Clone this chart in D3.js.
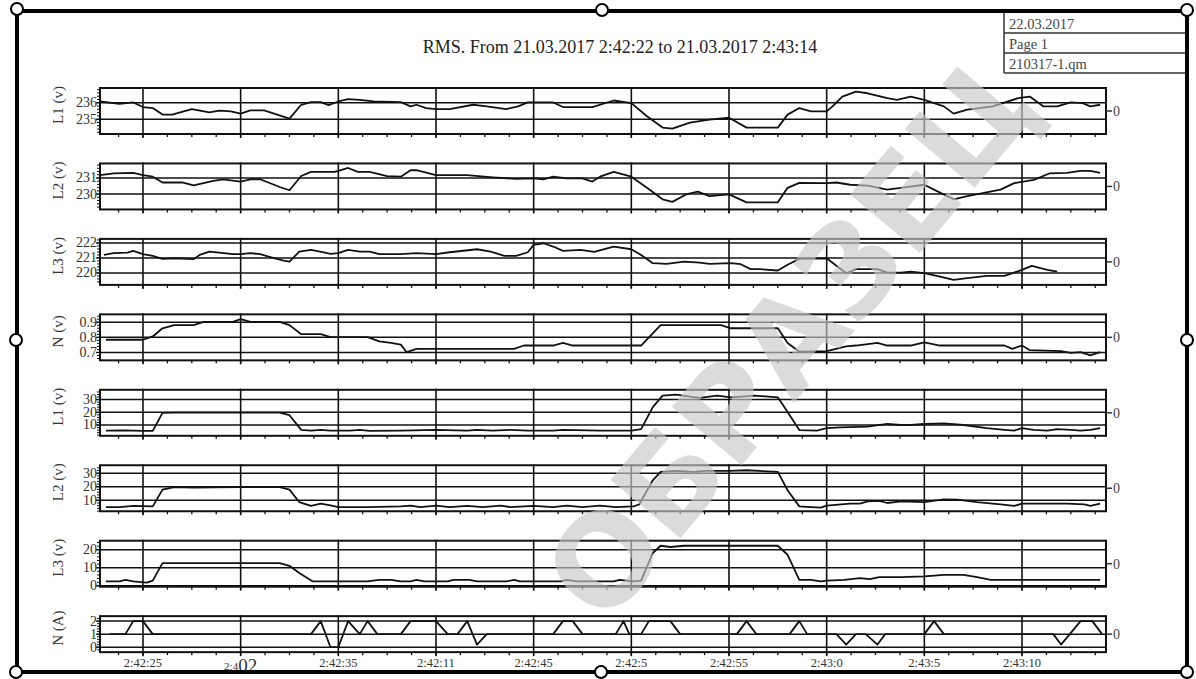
<!DOCTYPE html>
<html>
<head>
<meta charset="utf-8">
<script src="https://cdn.jsdelivr.net/npm/d3@7"></script>
<style>
  html, body { margin: 0; padding: 0; background: #fff; }
  svg { display: block; font-family: "Liberation Serif", "Times New Roman", serif; }
</style>
</head>
<body>
<svg id="chart" width="1196" height="679"></svg>
<script>
// ---- content -------------------------------------------------------------
const title = "RMS. From 21.03.2017 2:42:22 to 21.03.2017 2:43:14";
const infoRows = ["22.03.2017", "Page 1", "210317-1.qm"];
const watermarkText = "ОБРАЗЕЦ";

// time axis, seconds after 2:42:00
const timeDomain = [22.8, 74.3];
const majorTimes = [25, 30, 35, 40, 45, 50, 55, 60, 65, 70];
const xTickLabels = ["2:42:25", "2:402", "2:42:35", "2:42:11", "2:42:45", "2:42:5", "2:42:55", "2:43:0", "2:43:5", "2:43:10"];

const panelLabels = ["L1 (v)", "L2 (v)", "L3 (v)", "N (v)", "L1 (v)", "L2 (v)", "L3 (v)", "N (A)"];
const panelDomains = [[234.1, 236.9], [229.05, 231.9], [219.2, 222.27], [0.648, 0.952],
                      [1.5, 37.7], [1.9, 35.9], [-0.5, 25], [-0.38, 2.38]];
const panelTicks = [[235, 236], [230, 231], [220, 221, 222], [0.7, 0.8, 0.9],
                    [10, 20, 30], [10, 20, 30], [0, 10, 20], [0, 1, 2]];
const rightTickLabel = "0";

// ---- series: [time (s), value] -------------------------------------------
const voltL1 = [[22.8,236.08],[23.8,235.94],[24.5,236.02],[25.0,235.74],[25.5,235.68],[26.0,235.28],[26.5,235.28],[27.5,235.62],[28.4,235.42],[28.9,235.52],[29.5,235.48],[30.0,235.34],[30.5,235.54],[31.2,235.54],[32.5,235.04],[33.1,235.88],[33.6,236.04],[34.1,236.04],[34.5,235.86],[35.0,236.08],[35.5,236.22],[36.1,236.18],[36.8,236.08],[38.2,236.04],
  [38.7,235.78],[39.0,235.88],[39.5,235.68],[40.0,235.62],[40.7,235.62],[41.9,235.88],[42.6,235.78],[43.6,235.62],[44.2,235.78],[44.7,236.02],[46.0,236.02],[46.5,235.74],[48.0,235.74],[49.1,236.14],[50.0,235.98],[50.8,235.18],[51.6,234.49],[52.1,234.43],[53.0,234.79],[54.0,234.98],[55.0,235.09],[55.9,234.49],[57.5,234.49],[58.0,235.28],[58.6,235.68],[59.2,235.48],[60.0,235.48],[60.3,235.78],[60.8,236.38],[61.5,236.68],[62.1,236.58],[63.1,236.28],[63.6,236.18],[64.3,236.38],[65.0,236.18],[65.5,235.98],[66.0,235.78],[66.5,235.34],[67.2,235.58],[68.5,235.78],[69.8,236.28],[70.4,236.38],[71.1,235.78],[71.8,235.78],[72.5,236.02],[73.1,235.98],[73.5,235.78],[74.0,235.88]];

const voltL2 = [[22.8,231.18],[23.5,231.28],[24.5,231.32],[25.0,231.18],[25.5,231.08],[26.0,230.72],[27.0,230.72],[27.6,230.54],[28.6,230.82],[29.1,230.92],[30.0,230.78],[30.5,230.92],[31.0,230.92],[32.0,230.44],[32.5,230.24],[33.1,231.12],[33.6,231.38],[34.8,231.38],[35.0,231.44],[35.5,231.62],[36.0,231.38],[36.6,231.38],[37.5,231.12],[38.2,231.08],
  [38.7,231.48],[39.0,231.48],[40.0,231.18],[41.6,231.18],[42.9,231.04],[44.1,230.94],[45.0,230.98],[45.5,230.92],[46.0,231.08],[46.7,230.98],[47.5,230.98],[48.0,230.78],[48.4,231.08],[49.1,231.38],[50.0,231.08],[50.8,230.39],[51.6,229.68],[52.1,229.52],[52.8,229.98],[53.4,230.15],[54.0,229.88],[55.0,229.98],[55.9,229.49],[57.5,229.49],[58.0,230.39],[58.6,230.70],
  [60.0,230.68],[60.5,230.72],[61.2,230.58],[62.1,230.52],[63.1,230.28],[63.8,230.39],[65.0,230.58],[65.8,230.09],[66.5,229.68],[67.2,229.88],[68.9,230.28],[69.6,230.68],[70.6,230.88],[71.4,231.28],[72.3,231.32],[73.0,231.44],[73.5,231.44],[74.0,231.32]];

const voltL3 = [[23.0,221.2],[23.5,221.32],[24.2,221.36],[24.5,221.47],[25.0,221.25],[25.5,221.14],[26.0,220.94],[26.6,220.98],[27.6,220.92],[27.9,221.2],[28.4,221.42],[28.9,221.36],[29.6,221.25],[30.0,221.25],[30.5,221.32],[31.0,221.25],[31.7,220.98],[32.2,220.82],[32.5,220.76],[33.0,221.42],[33.6,221.54],[34.2,221.38],[34.6,221.27],[35.0,221.32],[35.5,221.54],[36.1,221.42],[36.6,221.42],[37.1,221.25],[38.2,221.25],
  [39.0,221.32],[40.0,221.25],[40.7,221.38],[42.1,221.58],[42.8,221.42],[43.5,221.14],[44.1,221.14],[44.7,221.38],[45.0,221.87],[45.5,221.98],[46.0,221.76],[46.5,221.47],[47.4,221.54],[48.1,221.4],[49.1,221.76],[50.0,221.58],[50.5,221.2],[51.1,220.65],[51.8,220.6],[52.7,220.76],[53.5,220.69],[54.0,220.6],[55.1,220.65],[55.6,220.58],[56.1,220.25],[56.6,220.25],[57.5,220.16],[58.0,220.54],[58.6,220.94],
  [60.0,220.98],[61.0,219.98],[61.5,220.25],[62.6,220.25],[63.1,220.02],[63.8,220.02],[64.3,220.09],[65.0,219.98],[65.8,219.76],[66.5,219.54],[67.2,219.65],[68.2,219.8],[69.1,219.8],[70.0,220.2],[70.5,220.47],[71.3,220.2],[71.8,220.09]];

const voltN = [[23.1,0.784],[25.0,0.784],[25.5,0.806],[26.0,0.86],[26.6,0.881],[27.6,0.881],[28.1,0.902],[29.6,0.902],[30.0,0.92],[30.5,0.902],[32.0,0.902],[32.5,0.881],[33.1,0.821],[34.1,0.821],[34.6,0.802],[36.5,0.802],[37.1,0.773],[37.7,0.763],[38.2,0.752],
  [38.5,0.702],[39.0,0.724],[40.0,0.724],[44.0,0.724],[44.5,0.746],[46.0,0.746],[46.5,0.763],[47.0,0.746],[50.0,0.746],[50.5,0.746],[51.5,0.881],[54.6,0.881],[55.1,0.86],[57.5,0.86],[58.0,0.763],[58.6,0.705],
  [60.0,0.709],[61.0,0.741],[61.5,0.746],[62.6,0.763],[63.1,0.746],[64.3,0.746],[65.0,0.767],[65.8,0.746],[69.1,0.746],[69.5,0.724],[70.0,0.746],[70.4,0.715],[72.0,0.709],[72.5,0.698],[73.0,0.702],[73.5,0.681],[74.0,0.702]];

const phaseL1 = [[23.1,5.6],[24.0,5.8],[25.0,5.4],[25.5,5.4],[26.0,19.5],[26.6,19.8],[32.0,19.8],[32.5,17.7],[33.1,6.2],[33.6,5.6],[34.1,6.2],[34.6,5.6],[35.6,5.6],[36.1,6.2],[36.6,5.4],[38.2,5.6],
  [40.0,6.2],[41.6,5.6],[42.1,6.2],[42.9,5.6],[43.8,6.2],[44.7,5.6],[46.0,5.6],[46.5,6.2],[48.4,5.6],[50.0,5.6],[50.5,6.7],[51.1,24.1],[51.6,33.1],[52.3,33.85],[53.0,32.3],[53.5,31.3],[54.4,33.1],[55.1,31.8],[56.3,33.1],[57.5,31.8],[58.0,20.2],[58.6,6.0],
  [59.5,5.6],[60.0,7.5],[60.7,8.2],[62.1,8.7],[63.1,10.8],[63.8,10.0],[64.3,10.0],[65.0,10.8],[66.0,11.3],[67.0,10.0],[68.2,7.5],[69.1,6.2],[69.6,5.6],[70.0,7.5],[70.6,6.2],[71.3,5.6],[71.8,6.7],[72.5,6.2],[73.0,5.6],[73.5,6.2],[74.0,7.5]];

const phaseL2 = [[23.1,5.0],[23.8,5.0],[24.5,5.8],[25.5,5.5],[26.0,17.9],[26.6,19.8],[27.6,19.4],[28.6,19.6],[30.0,19.8],[32.0,19.8],[32.5,17.9],[33.0,8.7],[33.6,5.8],[34.1,7.5],[34.6,6.3],[35.0,5.0],[36.5,5.0],[38.2,5.5],
  [38.7,6.0],[39.2,5.0],[40.0,6.0],[40.7,5.0],[41.6,5.8],[42.4,5.0],[43.3,6.0],[43.8,5.0],[45.0,5.8],[46.0,5.0],[46.7,6.0],[47.5,5.0],[48.4,6.0],[49.2,5.0],[50.1,5.5],[50.4,6.9],[51.1,24.8],[51.5,31.0],[52.3,31.7],[53.2,31.0],[53.8,31.7],[55.0,31.7],[55.9,32.2],[57.5,31.0],[58.0,17.4],[58.6,5.5],
  [59.2,5.0],[59.7,4.6],[60.0,6.0],[61.2,7.5],[61.7,7.5],[62.1,9.2],[62.7,9.5],[63.1,8.0],[63.8,9.2],[65.0,8.7],[66.0,10.7],[66.7,10.5],[67.7,8.7],[68.9,7.0],[69.6,5.8],[70.0,7.5],[72.3,7.5],[73.2,7.0],[73.5,5.8],[74.0,7.5]];

const phaseL3 = [[23.1,2.4],[23.8,2.4],[24.1,3.3],[24.5,2.4],[25.2,1.8],[25.5,2.9],[26.0,12.6],[26.6,12.6],[32.0,12.6],[32.5,11.1],[33.0,7.1],[33.7,2.4],[34.8,2.4],[36.5,2.4],[37.1,3.3],[37.7,3.3],[38.2,2.4],
  [38.7,2.4],[39.0,3.3],[39.4,2.4],[40.6,2.4],[40.9,3.3],[41.7,3.3],[42.1,2.4],[43.6,2.4],[44.0,3.3],[44.3,2.4],[46.4,2.4],[46.7,3.3],[47.2,2.4],[49.1,2.4],[49.4,3.3],[50.1,2.4],[50.5,2.9],[51.1,18.2],[51.5,22.2],[52.0,21.5],[52.7,22.2],[55.2,22.2],[57.5,22.2],[58.0,17.2],[58.6,3.3],
  [59.2,3.3],[59.7,2.4],[60.0,2.9],[60.9,3.3],[61.7,4.3],[62.2,3.7],[62.7,4.8],[63.8,4.8],[65.0,5.2],[66.0,6.1],[67.0,6.1],[67.7,4.8],[68.4,3.3],[74.0,3.3]];

const currentN = [[23.3,1],[24.1,1],[24.5,2],[25.0,2],[25.5,1],[33.6,1],[34.1,2],[34.6,0],[35.0,0],[35.5,2],[36.1,1],[36.5,2],[37.0,1],
  [38.2,1],[38.7,2],[40.0,2],[40.6,1],[41.1,1],[41.6,2],[42.1,0.2],[42.6,1],[46.0,1],[46.5,2],[47.0,2],[47.5,1],[49.2,1],[49.6,2],[49.9,1],[50.5,1],[50.9,2],[52.0,2],[52.5,1],[55.4,1],[55.9,2],[56.4,1],[58.1,1],[58.6,2],[59.0,1],
  [60.5,1],[61.0,0.2],[61.5,1],[62.0,1],[62.6,0.2],[63.0,1],[65.0,1],[65.5,2],[66.0,1],[71.6,1],[72.0,0.2],[73.0,2],[73.6,2],[74.1,1]];

const panelSeries = [voltL1, voltL2, voltL3, voltN, phaseL1, phaseL2, phaseL3, currentN];

// ---- drawing ---------------------------------------------------------------
const svg = d3.select("#chart");
const plotLeft = 100, plotRight = 1106;
const x = d3.scaleLinear().domain(timeDomain).range([plotLeft, plotRight]);
const minorTimes = d3.range(23.75, timeDomain[1], 1.25);

svg.append("text")
  .attr("x", 620).attr("y", 53)
  .attr("text-anchor", "middle")
  .attr("font-size", 18).attr("fill", "#222")
  .text(title);

panelSeries.forEach((series, i) => {
  const top = 88 + i * 75.45;
  const h = i < 7 ? 46 : 36;
  const y = d3.scaleLinear().domain(panelDomains[i]).range([top + h, top]);
  const g = svg.append("g").attr("class", "panel");

  const clipId = "clip" + i;
  g.append("clipPath").attr("id", clipId)
    .append("rect").attr("x", plotLeft).attr("y", top).attr("width", plotRight - plotLeft).attr("height", h);

  // horizontal grid at each labelled value
  g.selectAll(".hgrid").data(panelTicks[i]).join("line")
    .attr("x1", plotLeft).attr("x2", plotRight)
    .attr("y1", d => y(d)).attr("y2", d => y(d))
    .attr("stroke", "#111").attr("stroke-width", 1.5);

  // vertical grid at major times
  g.selectAll(".vgrid").data(majorTimes).join("line")
    .attr("x1", d => x(d)).attr("x2", d => x(d))
    .attr("y1", top - 1).attr("y2", top + h + 4)
    .attr("stroke", "#111").attr("stroke-width", 1.6);

  // minor time ticks below the panel
  g.selectAll(".mtick").data(minorTimes).join("line")
    .attr("x1", d => x(d)).attr("x2", d => x(d))
    .attr("y1", top + h).attr("y2", top + h + 3)
    .attr("stroke", "#111").attr("stroke-width", 1.3);

  // left axis with fine minor ticks
  const step = panelTicks[i][1] - panelTicks[i][0];
  const minorVals = d3.range(panelTicks[i][0] - 3 * step, panelTicks[i][panelTicks[i].length - 1] + 3 * step, step / 5)
    .filter(v => v > panelDomains[i][0] && v < panelDomains[i][1]);
  g.selectAll(".ytick-minor").data(minorVals).join("line")
    .attr("x1", plotLeft - 3).attr("x2", plotLeft)
    .attr("y1", d => y(d)).attr("y2", d => y(d))
    .attr("stroke", "#111").attr("stroke-width", 1);
  g.selectAll(".ytick").data(panelTicks[i]).join("line")
    .attr("x1", plotLeft - 4).attr("x2", plotLeft)
    .attr("y1", d => y(d)).attr("y2", d => y(d))
    .attr("stroke", "#111").attr("stroke-width", 1.3);
  g.selectAll(".ylabel").data(panelTicks[i]).join("text")
    .attr("x", plotLeft - 3).attr("y", d => y(d) + 4.5)
    .attr("text-anchor", "end").attr("font-size", 14).attr("fill", "#333")
    .text(d => String(d));

  // data line
  const line = d3.line().x(d => x(d[0])).y(d => y(d[1]));
  g.append("path").datum(series)
    .attr("clip-path", `url(#${clipId})`)
    .attr("d", line)
    .attr("fill", "none").attr("stroke", "#111").attr("stroke-width", 1.8)
    .attr("stroke-linejoin", "round");

  // panel frame
  g.append("rect")
    .attr("x", plotLeft).attr("y", top).attr("width", plotRight - plotLeft).attr("height", h)
    .attr("fill", "none").attr("stroke", "#111").attr("stroke-width", 2);

  // right-hand zero marker
  const midY = top + h / 2;
  g.append("line").attr("x1", plotRight).attr("x2", plotRight + 6)
    .attr("y1", midY).attr("y2", midY).attr("stroke", "#333").attr("stroke-width", 1.5);
  g.append("text").attr("x", plotRight + 7).attr("y", midY + 5)
    .attr("font-size", 14).attr("fill", "#444").text(rightTickLabel);

  // panel title
  g.append("text")
    .attr("transform", `translate(63,${top + h / 2 - 6}) rotate(-90)`)
    .attr("text-anchor", "middle").attr("font-size", 15).attr("fill", "#333")
    .text(panelLabels[i]);
});

// time labels under the last panel
const xl = svg.append("g");
majorTimes.forEach((t, k) => {
  const lab = xTickLabels[k];
  if (lab === "2:402") {
    const tx = xl.append("text").attr("x", x(t)).attr("y", 672)
      .attr("text-anchor", "middle").attr("fill", "#333");
    tx.append("tspan").attr("font-size", 11).attr("dy", -2).text("2:4");
    tx.append("tspan").attr("font-size", 19).attr("dy", 2).text("02");
  } else {
    xl.append("text").attr("x", x(t)).attr("y", 667)
      .attr("text-anchor", "middle").attr("font-size", 12.5).attr("fill", "#333")
      .text(lab);
  }
});

// info box in the top-right corner
const box = svg.append("g");
const boxLeft = 1004, boxRight = 1187;
[33, 53, 73].forEach(yy => box.append("line")
  .attr("x1", boxLeft).attr("x2", boxRight).attr("y1", yy).attr("y2", yy)
  .attr("stroke", "#333").attr("stroke-width", 1.5));
box.append("line").attr("x1", boxLeft).attr("x2", boxLeft).attr("y1", 11).attr("y2", 73)
  .attr("stroke", "#333").attr("stroke-width", 1.5);
box.selectAll("text").data(infoRows).join("text")
  .attr("x", boxLeft + 5).attr("y", (d, k) => 29 + k * 20)
  .attr("font-size", 14.5).attr("fill", "#444")
  .text(d => d);

// page frame with handles
svg.append("rect").attr("x", 17).attr("y", 11).attr("width", 1170).attr("height", 661)
  .attr("fill", "none").attr("stroke", "#000").attr("stroke-width", 4);
const handles = [[17, 9], [602, 10], [1187, 10], [16, 340], [1187, 340], [16, 672], [601, 672], [1187, 672]];
svg.selectAll(".handle").data(handles).join("circle")
  .attr("cx", d => d[0]).attr("cy", d => d[1]).attr("r", 6)
  .attr("fill", "#fff").attr("stroke", "#000").attr("stroke-width", 2);

// watermark
svg.append("text")
  .attr("transform", "translate(790,340) rotate(-50)")
  .attr("text-anchor", "middle").attr("dominant-baseline", "central")
  .attr("font-family", "DejaVu Sans, sans-serif").attr("font-weight", "bold")
  .attr("font-size", 125)
  .attr("fill", "#c8c8c8").attr("opacity", 0.65)
  .attr("pointer-events", "none")
  .text(watermarkText);
</script>
</body>
</html>
